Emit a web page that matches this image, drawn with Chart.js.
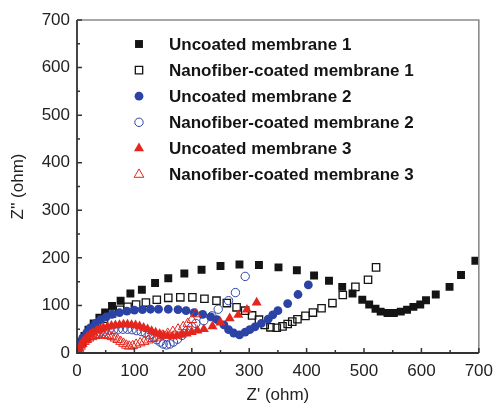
<!DOCTYPE html>
<html><head><meta charset="utf-8">
<script src="https://cdn.jsdelivr.net/npm/chart.js@4/dist/chart.umd.min.js"></script>
<style>html,body{margin:0;padding:0;background:#fff;}</style>
</head><body>
<canvas id="c" width="501" height="408"></canvas>
<script>
const seriesNames = ["Uncoated membrane 1","Nanofiber-coated membrane 1","Uncoated membrane 2","Nanofiber-coated membrane 2","Uncoated membrane 3","Nanofiber-coated membrane 3"];
const xTicks = [0,100,200,300,400,500,600,700];
const yTicks = [0,100,200,300,400,500,600,700];

const u1x = [1,6,13,20,29,39,49,61,76,93,113,136,159,187,217,250,283,317,351,383,413,439,462,480,497,509,520,529,541,552,564,575,586,598,608,625,649,669,694];
const u1y = [7,22,36,49,62,74,85,99,110,125,133,147,157,167,175,183,186,185,180,174,163,152,139,125,112,102,93,87,84,84,87,91,97,102,111,123,139,164,194];

const n1x = [1,8,17,25,35,47,61,75,88,103,120,139,159,180,201,222,243,261,278,293,305,317,327,337,348,358,367,375,384,398,411,426,445,463,485,507,521];
const n1y = [7,22,34,47,60,72,83,91,97,102,106,112,116,117,117,114,110,105,96,89,79,70,59,54,53,56,61,66,71,78,85,94,105,122,139,154,180];

const u2x = [1,5,10,17,23,32,41,51,61,74,87,100,114,128,142,159,176,190,204,219,233,244,256,264,273,283,293,301,310,321,333,341,350,367,385,403];
const u2y = [7,20,32,43,53,62,70,76,81,85,88,90,91,92,92,92,91,89,85,81,76,70,59,49,42,38,44,49,55,62,71,80,89,104,123,143];

const n2x = [1,3,6,10,15,20,26,33,40,48,56,64,72,80,88,96,104,112,119,126,133,139,145,150,156,162,168,175,183,192,200,207,221,235,246,264,276,293];
const n2y = [3,10,17,23,29,33,37,41,44,46,48,49,50,50,50,49,47,45,42,38,33,28,23,19,17,19,23,29,37,47,55,62,68,78,92,110,127,161];

const u3x = [2,4,7,10,14,18,23,28,34,40,46,53,60,67,74,81,88,95,102,109,116,123,130,137,144,151,158,166,174,182,191,200,210,221,236,250,266,281,296,313];
const u3y = [3,10,17,23,29,34,39,43,47,50,53,55,57,58,59,60,60,59,58,56,53,50,46,43,40,37,36,35,36,38,41,44,47,50,56,64,73,80,91,106];

const n3x = [1,3,6,9,13,17,21,26,31,36,41,46,51,56,61,66,71,76,81,86,91,97,103,110,117,124,132,140,149,158,167,176,185,193,200,207];
const n3y = [2,8,14,19,24,28,31,34,36,37,38,38,37,36,34,31,28,24,20,16,14,15,18,21,24,27,30,33,37,41,45,50,55,62,70,82];

const pts = (xs, ys) => xs.map((v, i) => ({x: v, y: ys[i]}));

const BLACK = '#141414', BLUE = '#2c43a6', RED = '#e4261d';
const FONT = '"Liberation Sans", Arial, Helvetica, sans-serif';

const datasets = [
  {label: seriesNames[0], data: pts(u1x,u1y), pointStyle:'rect', pointRadius:5.6, backgroundColor:BLACK, borderColor:BLACK, borderWidth:0},
  {label: seriesNames[1], data: pts(n1x,n1y), pointStyle:'rect', pointRadius:5.2, backgroundColor:'rgba(255,255,255,0)', borderColor:BLACK, borderWidth:1.3},
  {label: seriesNames[2], data: pts(u2x,u2y), pointStyle:'circle', pointRadius:4.4, backgroundColor:BLUE, borderColor:BLUE, borderWidth:0},
  {label: seriesNames[3], data: pts(n2x,n2y), pointStyle:'circle', pointRadius:4.2, backgroundColor:'rgba(255,255,255,0)', borderColor:BLUE, borderWidth:1},
  {label: seriesNames[4], data: pts(u3x,u3y), pointStyle:'triangle', pointRadius:5.8, backgroundColor:RED, borderColor:RED, borderWidth:0},
  {label: seriesNames[5], data: pts(n3x,n3y), pointStyle:'triangle', pointRadius:5.6, backgroundColor:'rgba(255,255,255,0)', borderColor:RED, borderWidth:1}
].map((d, i) => Object.assign(d, {showLine:false, order: 6 - i, pointHoverRadius: d.pointRadius}));

const framePlugin = {
  id: 'frame',
  afterDatasetsDraw(chart) {
    const {ctx, chartArea: a, scales: {x, y}} = chart;
    ctx.save();
    ctx.strokeStyle = '#8a8a8a'; ctx.lineWidth = 1.6;
    ctx.beginPath();
    ctx.moveTo(a.left, a.top); ctx.lineTo(a.right, a.top); ctx.lineTo(a.right, a.bottom);
    ctx.stroke();
    ctx.strokeStyle = '#333'; ctx.lineWidth = 1.8;
    ctx.beginPath();
    ctx.moveTo(a.left, a.top); ctx.lineTo(a.left, a.bottom); ctx.lineTo(a.right, a.bottom);
    ctx.stroke();
    ctx.lineWidth = 1.5;
    ctx.beginPath();
    const drawX = (v, L) => { const p = x.getPixelForValue(v); ctx.moveTo(p, a.bottom); ctx.lineTo(p, a.bottom - L); };
    const drawY = (v, L) => { const p = y.getPixelForValue(v); ctx.moveTo(a.left, p); ctx.lineTo(a.left + L, p); };
    xTicks.forEach((v, i) => { drawX(v, 5); if (i < xTicks.length - 1) drawX((v + xTicks[i+1]) / 2, 3); });
    yTicks.forEach((v, i) => { drawY(v, 5); if (i < yTicks.length - 1) drawY((v + yTicks[i+1]) / 2, 3); });
    ctx.stroke();
    ctx.restore();
  }
};

const legendPlugin = {
  id: 'customLegend',
  afterDraw(chart) {
    const {ctx, chartArea: a} = chart;
    ctx.save();
    const mx = a.left + 62, tx = a.left + 92, y0 = a.top + 24, step = 26.1;
    chart.data.datasets.forEach((d, i) => {
      const yy = y0 + i * step;
      ctx.fillStyle = d.backgroundColor; ctx.strokeStyle = d.borderColor;
      ctx.lineWidth = d.borderWidth;
      Chart.helpers.drawPoint(ctx, {pointStyle: d.pointStyle, radius: d.pointRadius, rotation: 0, borderWidth: d.borderWidth}, mx, yy);
      ctx.fillStyle = '#141414';
      ctx.font = 'bold 17px ' + FONT;
      ctx.textBaseline = 'middle'; ctx.textAlign = 'left';
      ctx.fillText(d.label, tx, yy + 1);
    });
    ctx.restore();
  }
};

new Chart(document.getElementById('c'), {
  type: 'scatter',
  data: {datasets},
  options: {
    responsive: false, animation: false, devicePixelRatio: 1,
    layout: {padding: {left: 0, top: 20, right: 15, bottom: 0}},
    plugins: {legend: {display: false}, tooltip: {enabled: false}},
    scales: {
      x: {
        type: 'linear', min: 0, max: 700,
        afterBuildTicks: s => { s.ticks = xTicks.map(v => ({value: v})); },
        afterFit: s => { s.height = 55; },
        grid: {display: false, drawTicks: false},
        border: {display: false},
        ticks: {color: '#222', font: {family: FONT, size: 17}, padding: 8, maxRotation: 0},
        title: {display: true, text: "Z' (ohm)", color: '#222', font: {family: FONT, size: 17}, padding: {top: 2, bottom: 2}}
      },
      y: {
        type: 'linear', min: 0, max: 700,
        afterBuildTicks: s => { s.ticks = yTicks.map(v => ({value: v})); },
        afterFit: s => { s.width = 77; },
        grid: {display: false, drawTicks: false},
        border: {display: false},
        ticks: {color: '#222', font: {family: FONT, size: 17}, padding: 7},
        title: {display: true, text: "Z'' (ohm)", color: '#222', font: {family: FONT, size: 17}, padding: {top: 8, bottom: 0}}
      }
    }
  },
  plugins: [framePlugin, legendPlugin]
});
</script>
</body></html>
